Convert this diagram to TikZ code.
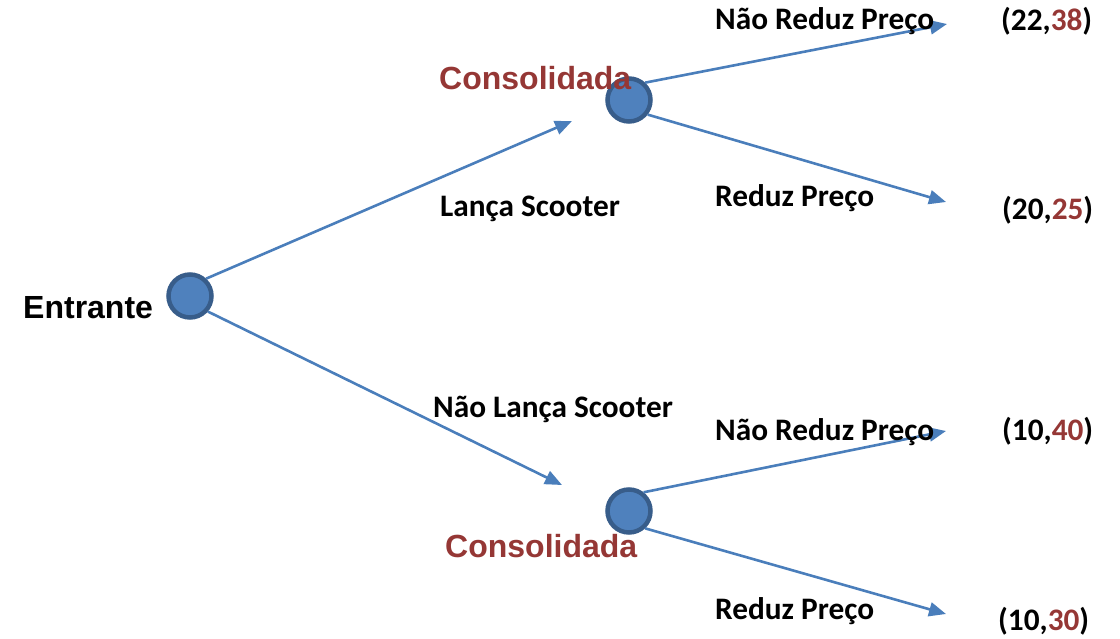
\documentclass[tikz,border=0pt]{standalone}
\usepackage{fontspec}
\setmainfont{Carlito}
\newfontfamily\arialfont{Liberation Sans}
\usetikzlibrary{arrows.meta}
\definecolor{nodefill}{HTML}{4F81BD}
\definecolor{nodeline}{HTML}{385D8A}
\definecolor{edgeblue}{HTML}{4A7EBB}
\definecolor{payred}{HTML}{953735}
\tikzset{
  decision/.style={circle, draw=nodeline, fill=nodefill, line width=4.5pt, minimum size=43pt, inner sep=0pt},
  branch/.style={draw=edgeblue, line width=2.6pt, -{Triangle[length=17pt,width=14pt]}},
  player/.style={anchor=base west, inner sep=0pt, font=\arialfont\bfseries\fontsize{32}{38}\selectfont},
  playername/.style={player, text=payred},
  action/.style={anchor=base west, inner sep=0pt, font=\bfseries\fontsize{31.3}{37}\selectfont},
  payoff/.style={action}
}
\begin{document}
\begin{tikzpicture}[x=1pt, y=-1pt]
  \useasboundingbox (0,0) rectangle (1120,639);

  % decision nodes
  \node[decision] (root) at (190,296) {};
  \node[decision] (top) at (629,100) {};
  \node[decision] (bot) at (629,511) {};

  % free ends of the branches
  \coordinate (launch) at (572,121);
  \coordinate (nolaunch) at (562,485);
  \coordinate (t1) at (947,24);
  \coordinate (t2) at (946,202);
  \coordinate (b1) at (946,431);
  \coordinate (b2) at (946,614);

  % branches
  \draw[branch] (root.47) -- (launch);
  \draw[branch] (root.-41) -- (nolaunch);
  \draw[branch] (top.47) -- (t1);
  \draw[branch] (top.-38) -- (t2);
  \draw[branch] (bot.52) -- (b1);
  \draw[branch] (bot.-47) -- (b2);

  % players
  \node[player] (entrante) at (23,319) {Entrante};
  \node[playername] (constop) at (439,90) {Consolidada};
  \node[playername] (consbot) at (445,557) {Consolidada};

  % actions
  \node[action] (lanca) at (440,217) {Lança Scooter};
  \node[action] (naolanca) at (433,417) {Não Lança Scooter};
  \node[action] (nrp1) at (715,30) {Não Reduz Preço};
  \node[action] (rp1) at (715,207) {Reduz Preço};
  \node[action] (nrp2) at (715,440) {Não Reduz Preço};
  \node[action] (rp2) at (715,619) {Reduz Preço};

  % payoffs
  \node[payoff] (p1) at (1001,31) {(22,\textcolor{payred}{38})};
  \node[payoff] (p2) at (1002,220) {(20,\textcolor{payred}{25})};
  \node[payoff] (p3) at (1002,440) {(10,\textcolor{payred}{40})};
  \node[payoff] (p4) at (998,630) {(10,\textcolor{payred}{30})};
\end{tikzpicture}
\end{document}
